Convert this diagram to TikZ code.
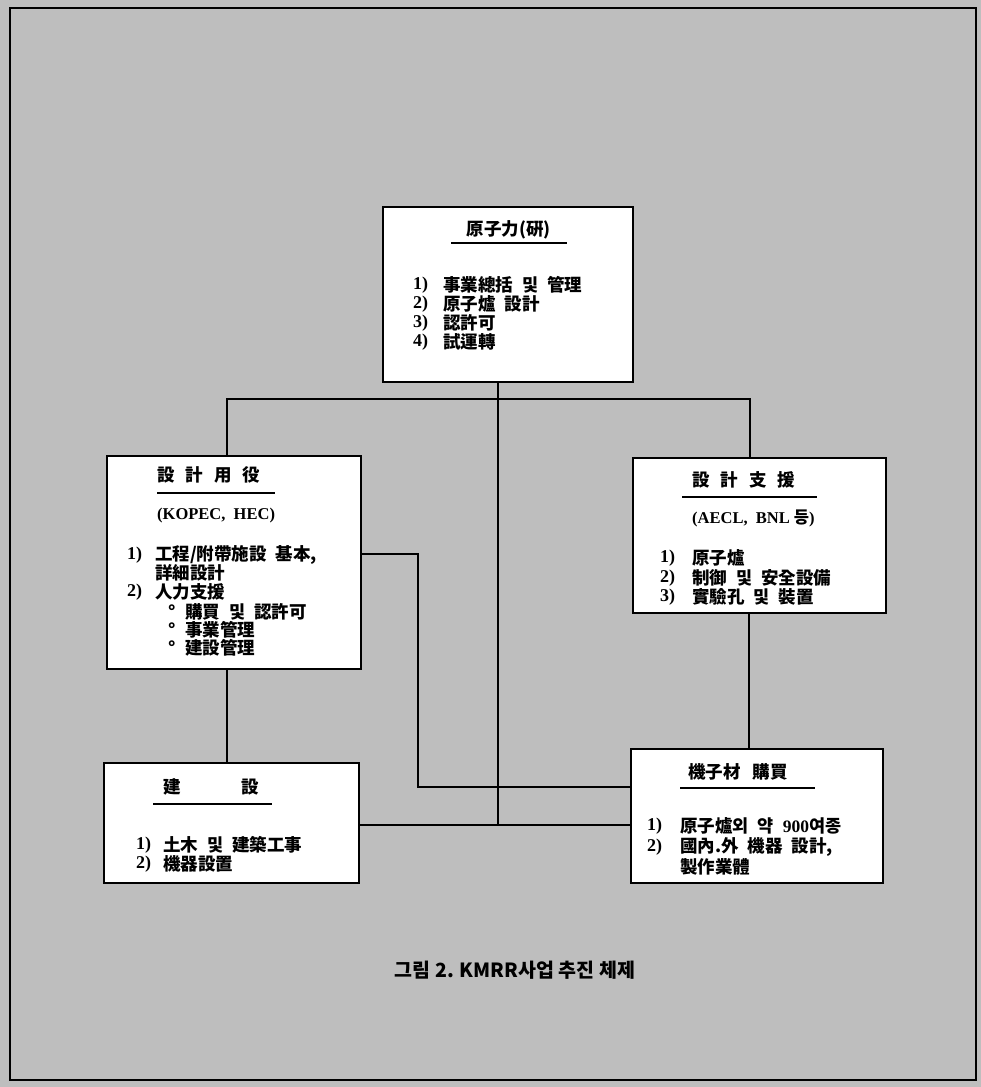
\documentclass[tikz,border=0pt]{standalone}
\usepackage{fontspec}
\setmainfont{Liberation Serif}
\newfontfamily\cjk{Noto Sans CJK KR}
\newfontfamily\latf{Liberation Serif}
\newcommand\nm[1]{{\latf\bfseries #1}}
\definecolor{bgc}{RGB}{190,190,190}
\tikzset{
  box/.style={draw, line width=1.6pt, fill=white, inner sep=0pt},
  conn/.style={line width=1.5pt},
  txt/.style={anchor=west, inner sep=0pt, font=\cjk\bfseries\fontsize{17.5}{19}\selectfont},
  num/.style={anchor=west, inner sep=0pt, font=\latf\bfseries\fontsize{18}{19}\selectfont},
  lat/.style={anchor=west, inner sep=0pt, font=\latf\bfseries\fontsize{16.5}{19}\selectfont},
  ttl/.style={txt, anchor=center},
  uline/.style={line width=1.5pt},
  captxt/.style={anchor=center, inner sep=0pt, font=\cjk\bfseries\fontsize{19.5}{22}\selectfont},
}
\newcommand\gap{\hspace{9pt}}
\begin{document}
\begin{tikzpicture}[x=1pt,y=-1pt]
\useasboundingbox (0,0) rectangle (981,1087);
\fill[bgc] (0,0) rectangle (981,1087);
\draw[line width=1.3pt] (10,8) rectangle (976,1080);

% boxes
\node[box, minimum width=250pt, minimum height=175pt] (top) at (508,294.5) {};
\node[box, minimum width=254pt, minimum height=213pt] (left) at (234,562.5) {};
\node[box, minimum width=253pt, minimum height=155pt] (right) at (759.5,535.5) {};
\node[box, minimum width=255pt, minimum height=120pt] (bl) at (231.5,823) {};
\node[box, minimum width=252pt, minimum height=134pt] (br) at (757,816) {};

% coordinates for connector routing
\coordinate (cTop) at (498,399);
\coordinate (cL) at (227,399);
\coordinate (cR) at (750,399);
\coordinate (cLow) at (498,825);
\coordinate (cMidA) at (418,554);
\coordinate (cMidB) at (418,787);
\coordinate (cLx) at (227,0);
\coordinate (cRx) at (749,0);

% connectors
\draw[conn] (top.south -| cTop) -- (cLow);
\draw[conn] (left.north -| cL) -- (cL) -- (cR) -- (right.north -| cR);
\draw[conn] (left.south -| cLx) -- (bl.north -| cLx);
\draw[conn] (left.east |- cMidA) -- (cMidA) -- (cMidB) -- (br.west |- cMidB);
\draw[conn] (right.south -| cRx) -- (br.north -| cRx);
\draw[conn] (bl.east |- cLow) -- (br.west |- cLow);

% top box text
\node[ttl] (t0) at (508.5,230) {原子力(硏)};
\draw[uline] (451,243) -- (567,243);
\node[num] (tn1) at (413,285) {1)};
\node[num] (tn2) at (413,304) {2)};
\node[num] (tn3) at (413,323) {3)};
\node[num] (tn4) at (413,342) {4)};
\node[txt] (t1) at (443,285) {事業總括\gap 및\gap 管理};
\node[txt] (t2) at (443,304) {原子爐\gap 設計};
\node[txt] (t3) at (443,323) {認許可};
\node[txt] (t4) at (443,342) {試運轉};

% left box text
\node[txt] (l0) at (157,475) {設\hspace{11pt}計\hspace{11pt}用\hspace{11pt}役};
\draw[uline] (157,493) -- (275,493);
\node[lat] (l1) at (157,516) {(KOPEC,\ \ HEC)};
\node[num] (ln1) at (127,555) {1)};
\node[txt] (l2) at (155,555) {工程/附帶施設\gap 基本,};
\node[txt] (l3) at (155,573) {詳細設計};
\node[num] (ln2) at (127,592) {2)};
\node[txt] (l4) at (155,592) {人力支援};
\node[txt] (lb1) at (168,612) {°};
\node[txt] (l5) at (185,612) {購買\gap 및\gap 認許可};
\node[txt] (lb2) at (168,630) {°};
\node[txt] (l6) at (185,630) {事業管理};
\node[txt] (lb3) at (168,648) {°};
\node[txt] (l7) at (185,648) {建設管理};

% right box text
\node[txt] (r0) at (692,480) {設\hspace{11pt}計\hspace{11pt}支\hspace{11pt}援};
\draw[uline] (682,497) -- (817,497);
\node[lat] (r1) at (692,518) {(AECL,\ \ BNL \cjk 등\latf )};
\node[num] (rn1) at (660,558) {1)};
\node[num] (rn2) at (660,578) {2)};
\node[num] (rn3) at (660,597) {3)};
\node[txt] (r2) at (692,558) {原子爐};
\node[txt] (r3) at (692,578) {制御\gap 및\gap 安全設備};
\node[txt] (r4) at (692,597) {實驗孔\gap 및\gap 裝置};

% bottom-left box text
\node[ttl] (b0a) at (172,787) {建};
\node[ttl] (b0b) at (250,787) {設};
\draw[uline] (153,804) -- (272,804);
\node[num] (bn1) at (136,845) {1)};
\node[num] (bn2) at (136,864) {2)};
\node[txt] (b1) at (163,845) {土木\gap 및\gap 建築工事};
\node[txt] (b2) at (163,864) {機器設置};

% bottom-right box text
\node[txt] (s0) at (688,772) {機子材\hspace{12pt}購買};
\draw[uline] (680,788) -- (815,788);
\node[num] (sn1) at (647,826) {1)};
\node[num] (sn2) at (647,847) {2)};
\node[txt] (s1) at (680,826) {原子爐외\gap 약\gap {\latf 900}여종};
\node[txt] (s2) at (680,847) {國內.外\gap 機器\gap 設計,};
\node[txt] (s3) at (680,867) {製作業體};

% caption
\node[captxt] (caption) at (515,970) {그림 2. KMRR사업 추진 체제};
\end{tikzpicture}
\end{document}
